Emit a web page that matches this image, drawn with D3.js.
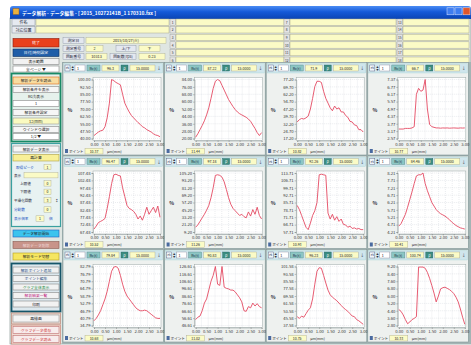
<!DOCTYPE html>
<html><head><meta charset="utf-8">
<script src="https://cdn.jsdelivr.net/npm/d3@7/dist/d3.min.js"></script>
<style>
html,body{margin:0;padding:0;background:#fff;}
svg{display:block;}
text{font-family:"Noto Sans CJK JP","Noto Sans",sans-serif;}
</style></head><body>
<svg id="c" width="471" height="345"></svg>
<script>
// ---------------- data ----------------
const xSamples = [0.0,0.1,0.2,0.3,0.4,0.5,0.6,0.7,0.8,0.9,1.0,1.1,1.2,1.3,1.4,1.5,1.6,1.7,1.8,1.9,2.0,2.1,2.2,2.3,2.4,2.5,2.6,2.7,2.8,2.9,3.0];
const xTickLabels = ["0.00","0.50","1.00","1.50","2.00","2.50","3.00"];

const yTicks1  = ["100.00","92.50","85.00","77.50","70.00","62.50","55.00","47.50","40.00"];
const yTicks2  = ["84.00","76.00","68.00","60.00","52.00","44.00","36.00","28.00","20.00"];
const yTicks3  = ["77.20","69.70","62.20","54.70","47.20","39.70","32.20","24.70","17.20"];
const yTicks4  = ["7.37","6.77","6.17","5.57","4.97","4.37","3.77","3.17","2.57"];
const yTicks5  = ["107.48","102.48","97.48","92.48","87.48","82.48","77.48","72.48","67.48"];
const yTicks6  = ["105.20","93.20","81.20","69.20","57.20","45.20","33.20","21.20","9.20"];
const yTicks7  = ["113.71","106.71","99.71","92.71","85.71","78.71","71.71","64.71","57.71"];
const yTicks8  = ["8.21","7.71","7.21","6.71","6.21","5.71","5.21","4.71","4.21"];
const yTicks9  = ["82.79","76.79","70.79","64.79","58.79","52.79","46.79","40.79","34.79"];
const yTicks10 = ["126.61","116.61","106.61","96.61","86.61","76.61","66.61","56.61","46.61"];
const yTicks11 = ["101.58","93.58","85.58","77.58","69.58","61.58","53.58","45.58","37.58"];
const yTicks12 = ["9.20","8.40","7.60","6.80","6.00","5.20","4.40","3.60","2.80"];

const values1  = [43,44.8,46.6,47.8,48.4,52,61,76,100,98.8,97,95.8,94.6,85,76,71.2,67,63.4,61,58.6,56.2,54.4,52,50.8,49,47.8,46.6,44.8,43.6,43,41.8];
const values2  = [21.3,25.1,29.6,34.1,39.2,45.6,53.3,63.5,74.4,82.1,84,82.7,77.6,72.5,67.4,62.2,58.4,54.6,51.4,48.8,46.9,45.6,44.3,43,41.1,38.6,34.7,30.9,26.4,23.2,26.4];
const values3  = [34.0,36.4,37.6,37.0,38.2,40.0,47.2,58.0,70.0,75.4,75.4,74.2,65.2,58.0,53.2,48.4,45.4,50.2,47.2,48.4,44.2,44.2,40.6,38.8,34.6,34.0,31.0,30.4,26.2,26.2,23.8];
const values4  = [3.34,3.34,3.34,3.39,3.39,3.39,3.43,3.53,6.17,6.65,6.41,6.51,7.37,4.97,3.72,3.53,3.48,3.43,3.43,3.41,3.43,3.42,3.43,3.41,3.42,3.43,3.42,3.41,3.43,3.42,3.43];
const values5  = [69.48,71.48,73.88,74.68,75.48,76.68,83.48,91.48,100.28,106.28,106.68,105.88,105.48,97.48,91.48,85.48,83.48,82.68,81.48,79.48,76.28,78.28,75.48,79.48,84.28,79.48,81.88,84.28,80.68,85.08,77.48];
const values6  = [16.88,20.72,26.48,32.24,38,44.72,52.4,64.88,81.2,101.36,102.32,101.36,98.48,90.8,78.32,64.88,54.32,47.6,43.76,39.92,36.08,38,34.16,32.24,41.84,35.12,45.68,38,49.52,36.08,30.32];
const values7  = [82.91,78.99,73.39,67.79,62.19,59.95,66.11,73.39,77.87,85.71,112.03,112.59,112.03,111.47,75.63,70.03,74.51,68.91,72.27,67.79,70.03,64.99,64.43,62.19,63.31,61.07,61.63,60.51,61.07,59.95,59.95];
const values8  = [4.61,4.77,5.09,5.41,5.89,6.41,6.93,7.49,8.01,8.09,8.09,8.21,7.49,7.01,6.61,6.21,5.97,5.73,5.57,5.45,5.37,5.29,5.17,5.05,4.89,4.77,4.65,4.57,4.49,4.45,4.41];
const values9  = [38.63,40.55,43.43,46.79,51.59,56.39,62.63,70.79,78.95,82.31,82.79,81.35,75.59,68.39,62.63,58.79,56.39,53.99,51.59,49.19,47.75,46.79,46.79,47.27,46.79,45.35,43.91,42.47,41.03,40.55,40.55];
const values10 = [54.61,57.81,59.41,66.61,77.01,82.61,94.61,106.61,114.61,126.61,102.61,101.01,126.61,98.61,97.01,96.21,94.61,94.61,92.21,88.21,84.21,78.61,66.61,65.81,72.21,70.61,77.01,73.01,76.21,72.21,70.61];
const values11 = [47.18,45.26,47.82,46.54,50.38,54.22,56.78,66.38,82.38,96.46,100.3,99.66,91.98,83.66,75.98,70.86,68.3,66.38,64.46,61.9,59.34,56.78,54.86,52.94,50.38,47.82,47.18,43.98,42.7,40.78,38.86];
const values12 = [4.53,4.34,3.95,3.44,2.99,3.18,3.44,3.57,3.76,9.14,9.14,9.14,9.01,8.56,7.92,7.15,6.32,5.36,6.0,6.77,6.9,6.96,6.83,6.7,6.51,6.26,5.87,5.36,4.59,3.70,2.93];

const rcValues    = ["96.3","87.22","71.9","66.7","96.47","97.18","92.26","84.46","79.84","90.83","96.23","100.74"];
const rhoValues   = ["15.0000","15.0000","15.0000","15.0000","15.0000","15.0000","15.0000","15.0000","15.0000","15.0000","15.0000","15.0000"];
const pointValues = ["10.37","11.44","10.82","10.77","10.52","11.26","10.93","10.41","10.68","11.02","10.75","10.33"];

const panels = [
  {t:yTicks1,v:values1},{t:yTicks2,v:values2},{t:yTicks3,v:values3},{t:yTicks4,v:values4},
  {t:yTicks5,v:values5},{t:yTicks6,v:values6},{t:yTicks7,v:values7},{t:yTicks8,v:values8},
  {t:yTicks9,v:values9},{t:yTicks10,v:values10},{t:yTicks11,v:values11},{t:yTicks12,v:values12}
];

// ---------------- helpers ----------------
const svg = d3.select("#c");
function R(g,x,y,w,h,fill,stroke,sw){
  return g.append("rect").attr("x",x).attr("y",y).attr("width",w).attr("height",h)
    .attr("fill",fill).attr("stroke",stroke||"none").attr("stroke-width",sw||0.5);
}
function T(g,x,y,s,size,color,anchor,weight){
  return g.append("text").attr("x",x).attr("y",y).attr("font-size",size||4.5)
    .attr("fill",color||"#222").attr("text-anchor",anchor||"start")
    .attr("dominant-baseline","central").attr("font-weight",weight||"normal").text(s);
}
const YEL="#fbfbc6", YST="#a8a890";

const defs = svg.append("defs");
const tb = defs.append("linearGradient").attr("id","tb").attr("x1",0).attr("y1",0).attr("x2",0).attr("y2",1);
tb.append("stop").attr("offset","0").attr("stop-color","#4a8cf4");
tb.append("stop").attr("offset","0.45").attr("stop-color","#1459d8");
tb.append("stop").attr("offset","1").attr("stop-color","#0a44b4");

// ---------------- window chrome ----------------
R(svg,0,0,471,345,"#ffffff");
R(svg,10,18,461,326,"#dfe6e2","#7a8a88",0.6);
svg.append("path").attr("d","M10,19 L10,9 Q10,6 13,6 L468,6 Q471,6 471,9 L471,19 Z").attr("fill","url(#tb)");
R(svg,13,8.5,6,6,"#e8b040","#905010",0.4);
T(svg,22,12,"データ解析 - データ編集 - [ 2015_10272141B_1 170310.fxx ]",4.8,"#ffffff","start","bold");
R(svg,447,7.8,7,7,"#3f7ef0","#e0e8ff",0.5);
R(svg,455,7.8,7,7,"#3f7ef0","#e0e8ff",0.5);
R(svg,463,7.8,7,7,"#e0562a","#ffe0d0",0.5);

// top: subject rows
R(svg,12,19,23,6.4,"#e6eaf0","#8890a0");  T(svg,23.5,22.2,"件名",4,"#223","middle");
R(svg,36,19,133,6.4,YEL,YST);
R(svg,12,26.6,23,6.4,"#e6eaf0","#8890a0"); T(svg,23.5,29.8,"対応位置",4,"#223","middle");
R(svg,36,26.6,133,6.4,YEL,YST);

const rowY=[19,26.6,34.2,41.8,49.4,57];
const cols=[{m:170,f:176,w:108,n:1},{m:284,f:290,w:106,n:7},{m:397,f:403,w:66,n:13}];
cols.forEach(c=>{
  rowY.forEach((y,i)=>{
    R(svg,c.m,y,5.5,6.4,"#e4e4e4","#999",0.4);
    T(svg,c.m+2.75,y+3.2,String(c.n+i),3.3,"#333","middle");
    R(svg,c.f,y,c.w,6.4,YEL,YST);
  });
});

// middle info
function lbl(x,y,w,s){R(svg,x,y,w,6,"#e4e8f0","#8890a0",0.4);T(svg,x+w/2,y+3,s,3.8,"#223","middle");}
function fld(x,y,w,s){R(svg,x,y,w,6,YEL,YST,0.4);T(svg,x+w/2,y+3,s,3.8,"#222","middle");}
lbl(63,37.5,21,"測定日");   fld(86,37.5,80,"2015/10/27(火)");
lbl(63,45.5,21,"測定番号"); fld(86,45.5,17,"2"); lbl(116,45.5,20,"上/下"); fld(139,45.5,21,"下");
lbl(63,53.5,21,"回転番号"); fld(86,53.5,21,"10313"); lbl(110,53.5,26,"回転数(rps)"); fld(139,53.5,26,"0.23");

// ---------------- left toolbar ----------------
function btn(y,h,s,fill,stroke,color,x,w){
  x=x||13; w=w||46;
  R(svg,x,y,w,h,fill,stroke,0.6);
  T(svg,x+w/2,y+h/2,s,3.8,color||"#222","middle");
}
btn(38.5,8.5,"終了","#e8401c","#8a1a0c","#ffffff");
btn(49,7.5,"日付/時刻設定","#1f5ea8","#0e2f60","#ffffff");
btn(58.5,6,"表示範囲","#f2f2f2","#888");
btn(66,6,"全ページ      ▼","#ffffff","#888");
// group A
R(svg,11.5,73.5,49,68,"#e6f1ec","#188a66",1.8);
btn(77,7,"解析データを読込","#f8dca0","#e06818");
btn(86.5,6,"解析条件を表示","#f6f6f6","#888");
T(svg,36,96,"Rc(t)表示",3.8,"#222","middle");
btn(100.5,6,"1","#ffffff","#888");
btn(109.5,6,"解析条件設定","#f6f6f6","#888");
btn(118,6,"12(mm)","#fafac0","#999");
btn(126.5,6,"ウインドウ選択","#f6f6f6","#888");
btn(133.5,6,"1/2          ▼","#ffffff","#888");
// group B
R(svg,11.5,143.5,49,83,"#e8f2f2","#3aa0a0",1.2);
btn(146,6,"解析データ表示","#f6f6f6","#888");
btn(154.5,6.5,"再計算","#f8f098","#b0a040");
T(svg,16,167,"取得ピーク",3.6,"#2050c0"); R(svg,44,164.3,7,5.4,YEL,YST,0.4); T(svg,47.5,167,"1",3.5,"#222","middle");
T(svg,14,175.2,"表示",3.6,"#223"); R(svg,24,172.5,34,5.4,YEL,YST,0.4);
T(svg,20,183.4,"上限値",3.6,"#223"); R(svg,44,180.7,7,5.4,YEL,YST,0.4); T(svg,47.5,183.4,"0",3.5,"#222","middle");
T(svg,20,191.8,"下限値",3.6,"#223"); R(svg,44,189.1,7,5.4,YEL,YST,0.4); T(svg,47.5,191.8,"0",3.5,"#222","middle");
T(svg,14,200.2,"平滑化回数",3.6,"#223"); R(svg,44,197.5,7,5.4,YEL,YST,0.4); T(svg,47.5,200.2,"3",3.5,"#222","middle"); T(svg,55,200.2,"↕",3.6,"#223");
T(svg,14,209.5,"分割数",3.6,"#2050c0"); R(svg,44,206.8,7,5.4,YEL,YST,0.4); T(svg,47.5,209.5,"0",3.5,"#222","middle");
T(svg,14,218.5,"表示倍率",3.6,"#2050c0"); R(svg,36,215.8,8,5.4,YEL,YST,0.4); T(svg,40,218.5,"1",3.5,"#222","middle"); T(svg,49,218.5,"倍",3.6,"#2050c0");
btn(230,7,"データ解析開始","#3cc4ee","#2060c0");
btn(241.5,7,"解析データ削除","#c8948a","#8a5a50","#f0d8d8");
btn(253,7,"解析モード切替","#f6e660","#b8a020");
// group C
R(svg,11.5,263.5,49,48,"#dde8ee","#16566a",1.8);
btn(267,6,"解析ポイント追加","#f2f2f2","#888","#204a80");
btn(275.5,6,"ポイント編集","#f2f2f2","#888","#204a80");
btn(284,6,"グラフ全体表示","#f2f2f2","#888","#208a40");
btn(292.5,6,"解析結果一覧","#f2f2f2","#888","#c02080");
btn(301,6,"印刷","#f2f2f2","#888");
R(svg,11.5,313,49,11,"#e8d8d0","#c09080",0.8);
btn(315,7,"再描画","#f4f4f4","#999");
R(svg,11.5,325,49,19,"#f0dcd4","#d09080",0.8);
btn(326.5,7,"グラフデータ保存","#f8ecec","#c07070","#d04040");
btn(335.5,7,"グラフデータ読込","#f8ecec","#c07070","#d04040");

// ---------------- chart grid ----------------
R(svg,62,62,409,282,"#a3b4b4");
const xTickVals = xTickLabels.map(Number);

panels.forEach((p,k)=>{
  const col=k%4, row=Math.floor(k/4);
  const px=63+col*101.6, py=62.5+row*93.5;
  const g=svg.append("g");
  R(g,px,py,100.6,92.5,"#eef1ef","#7f9494",0.6);
  // header
  R(g,px+1,py+1,98.6,9.5,"#cfe5ec","#9cc",0.3);
  R(g,px+2,py+2.5,5,6,"#eef6fa","#557",0.4); T(g,px+4.5,py+5.5,"Pk",2.6,"#224","middle");
  T(g,px+9.6,py+4.2,"▲",2.4,"#334","middle"); T(g,px+9.6,py+7,"▼",2.4,"#334","middle");
  R(g,px+12,py+2.5,10,6,"#ffffff","#889",0.4); T(g,px+14,py+5.5,"1",3.6,"#222");
  R(g,px+24,py+2.5,13,6,"#8cc6c4","#588",0.4); T(g,px+30.5,py+5.5,"Rc(t)",3.6,"#123","middle");
  R(g,px+39,py+2.5,17,6,YEL,YST,0.4); T(g,px+47.5,py+5.5,rcValues[k],3.6,"#222","middle");
  R(g,px+58,py+2.5,7,6,"#3c8c80","#266",0.4); T(g,px+61.5,py+5.5,"ρ",3.8,"#fff","middle");
  R(g,px+67,py+2.5,25,6,YEL,YST,0.4); T(g,px+79.5,py+5.5,rhoValues[k],3.6,"#222","middle");
  T(g,px+96,py+5.5,"↓",4,"#334","middle");
  // footer
  R(g,px+2,py+86.5,3,4,"#4a6aa0"); T(g,px+6,py+88.6,"ポイント",3.6,"#222");
  R(g,px+22,py+85.7,18,5.8,YEL,YST,0.4); T(g,px+31,py+88.6,pointValues[k],3.5,"#222","middle");
  T(g,px+44,py+88.6,"μm(mm)",3.6,"#222");
  // plot
  const x0=px+30, x1=px+98, y0=py+15, y1=py+78;
  R(g,x0,y0,x1-x0,y1-y0,"#ffffff","#9aa6a6",0.5);
  const tvals=p.t.map(Number);
  const y=d3.scaleLinear().domain([tvals[tvals.length-1],tvals[0]]).range([y1-2,y0+2]);
  const x=d3.scaleLinear().domain([xTickVals[0],xTickVals[xTickVals.length-1]]).range([x0+1,x1-1]);
  const grid=g.append("g").attr("stroke","#c9d0d6").attr("stroke-width",0.4).attr("stroke-dasharray","1,1");
  d3.range(1,10).forEach(i=>{
    const gx=x0+(x1-x0)*i/10;
    grid.append("line").attr("x1",gx).attr("x2",gx).attr("y1",y0).attr("y2",y1);
  });
  tvals.forEach(v=>{
    grid.append("line").attr("x1",x0).attr("x2",x1).attr("y1",y(v)).attr("y2",y(v));
  });
  const ya=g.append("g").attr("transform",`translate(${x0},0)`)
    .call(d3.axisLeft(y).tickValues(tvals).tickFormat((d,i)=>p.t[i]).tickSize(1.5).tickPadding(1));
  const xa=g.append("g").attr("transform",`translate(0,${y1})`)
    .call(d3.axisBottom(x).tickValues(xTickVals).tickFormat((d,i)=>xTickLabels[i]).tickSize(1.5).tickPadding(1));
  [ya,xa].forEach(a=>{
    a.select(".domain").attr("stroke","#8a9696").attr("stroke-width",0.5);
    a.selectAll(".tick line").attr("stroke","#666").attr("stroke-width",0.4);
    a.selectAll(".tick text").attr("font-size",4.2).attr("fill","#333")
      .attr("font-family","'DejaVu Sans Condensed','Liberation Sans Narrow',sans-serif");
  });
  T(g,px+7,(y0+y1)/2,"%",5,"#334","middle","bold");
  const line=d3.line().x((d,i)=>x(xSamples[i])).y(d=>y(d));
  g.append("path").datum(p.v).attr("d",line).attr("fill","none")
    .attr("stroke","#e44a62").attr("stroke-width",0.9).attr("stroke-linejoin","round");
});
</script>
</body></html>
